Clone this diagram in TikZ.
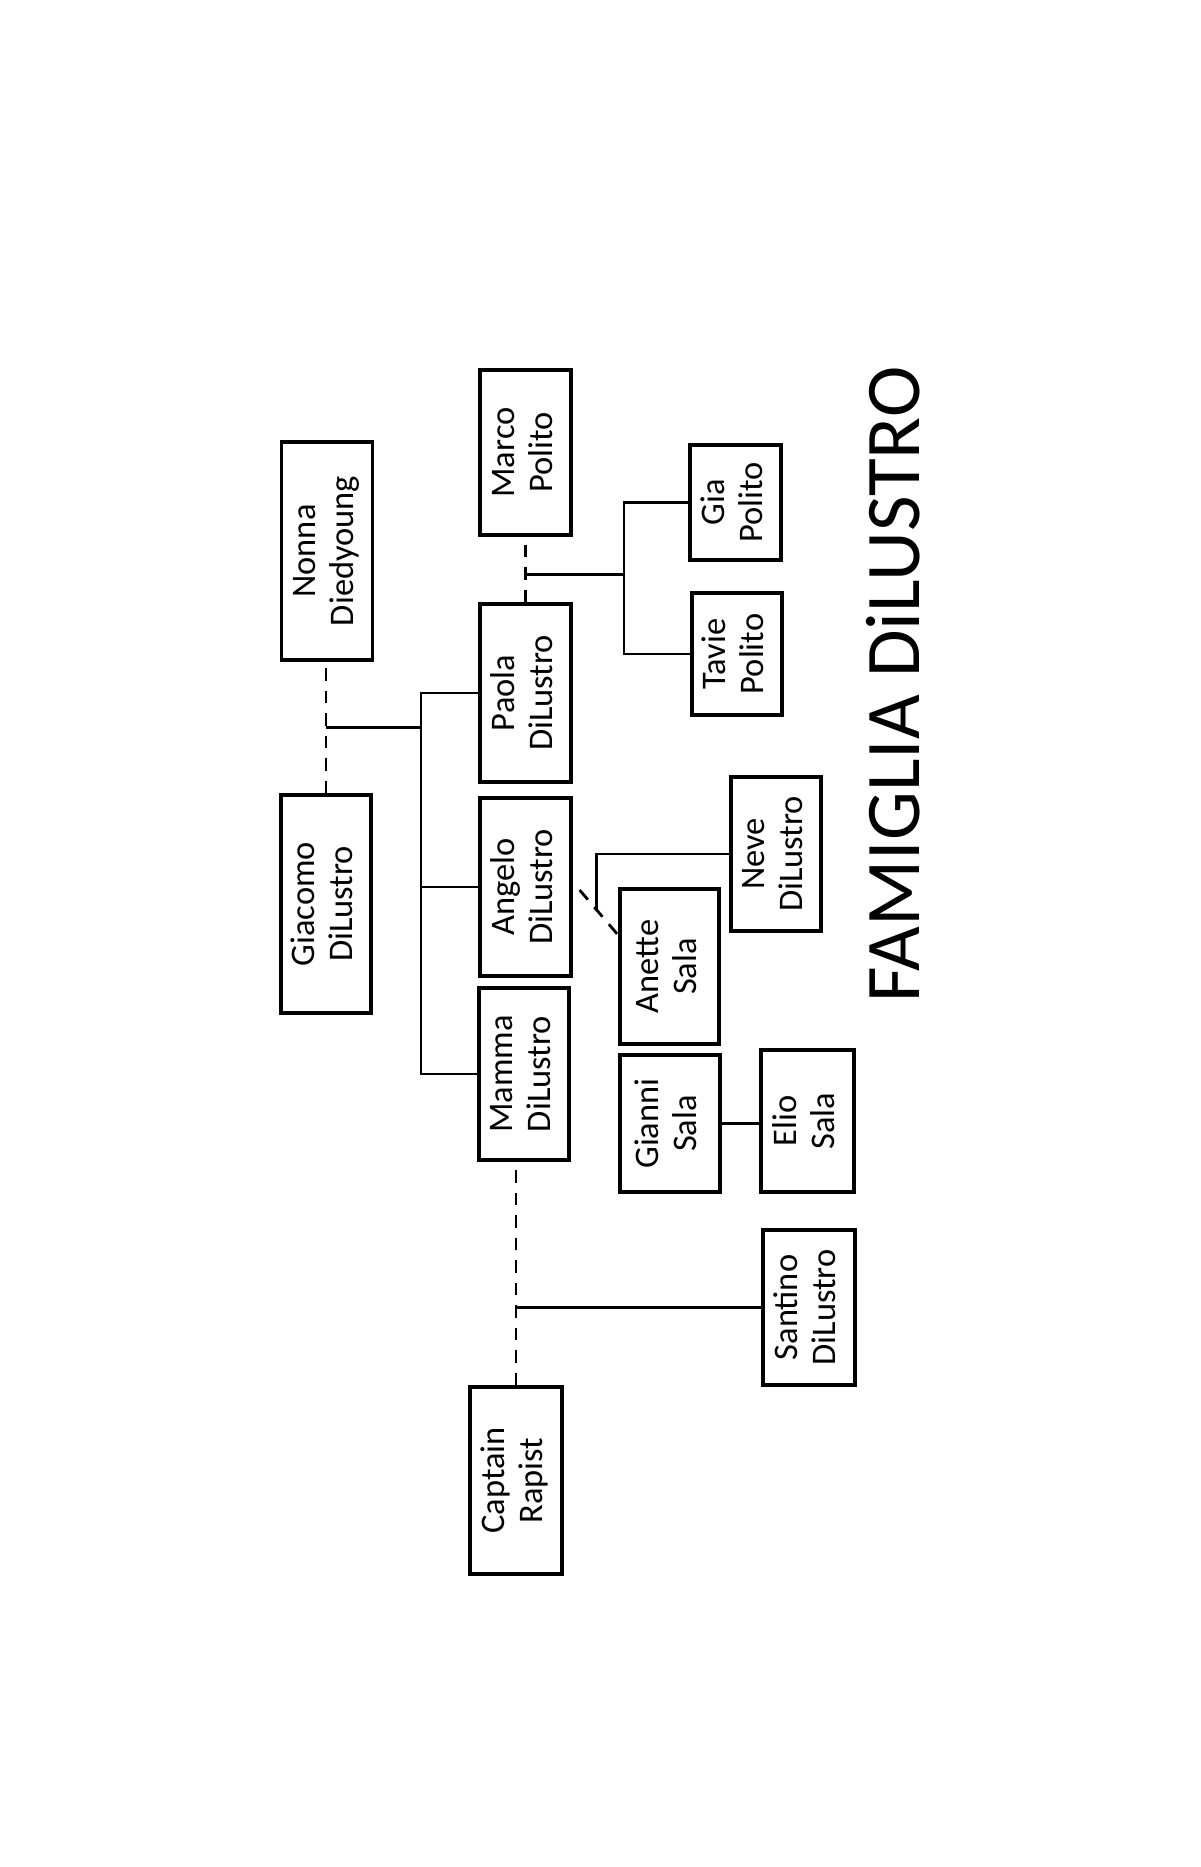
\documentclass[tikz,border=0pt]{standalone}
\usepackage{fontspec}
\setmainfont{Carlito}
\usepackage{graphicx}
\usetikzlibrary{calc}

\tikzset{
  person/.style 2 args={draw, line width=.9pt, inner sep=0pt,
    minimum width=#1, minimum height=#2, font=\fontsize{9.8}{10.8}\selectfont},
  link/.style={line width=.8pt},
  wed/.style={line width=.8pt, dash pattern=on 3.6pt off 2.8pt}
}
\newcommand{\who}[2]{\rotatebox{90}{\begin{tabular}{@{}c@{}}#1\\#2\end{tabular}}}

\begin{document}
\begin{tikzpicture}[x=0.01cm,y=-0.01cm]
\useasboundingbox (0,0) rectangle (1200,1867);
% grandparents
\node[person={.91cm}{2.18cm}] (nonna) at (327,551) {\who{Nonna}{Diedyoung}};
\node[person={.90cm}{2.18cm}] (giacomo) at (326,904) {\who{Giacomo}{DiLustro}};
% children and partners
\node[person={.91cm}{1.65cm}] (marco) at (525.5,452.5) {\who{Marco}{Polito}};
\node[person={.91cm}{1.78cm}] (paola) at (525.5,693) {\who{Paola}{DiLustro}};
\node[person={.91cm}{1.78cm}] (angelo) at (525.5,887) {\who{Angelo}{DiLustro}};
\node[person={.90cm}{1.72cm}] (mamma) at (524,1074) {\who{Mamma}{DiLustro}};
\node[person={.92cm}{1.87cm}] (captain) at (516,1480.5) {\who{Captain}{Rapist}};
\node[person={.99cm}{1.55cm}] (anette) at (669.5,966.5) {\who{Anette}{Sala}};
\node[person={1.00cm}{1.37cm}] (gianni) at (670,1123.5) {\who{Gianni}{Sala}};
% grandchildren
\node[person={.91cm}{1.15cm}] (gia) at (735.5,502.5) {\who{Gia}{Polito}};
\node[person={.90cm}{1.22cm}] (tavie) at (737,654) {\who{Tavie}{Polito}};
\node[person={.90cm}{1.54cm}] (neve) at (776,854) {\who{Neve}{DiLustro}};
\node[person={.93cm}{1.42cm}] (elio) at (807.5,1121) {\who{Elio}{Sala}};
\node[person={.92cm}{1.55cm}] (santino) at (809,1307.5) {\who{Santino}{DiLustro}};
% title
\node[rotate=90, inner sep=0pt, font=\fontsize{22}{26}\selectfont] (title) at (893,684.5) {FAMIGLIA DiLUSTRO};

% Nonna + Giacomo
\draw[wed] (giacomo.north) -- (giacomo.north |- nonna.south);
\coordinate (gn) at ($(giacomo.north)!.5!(giacomo.north |- nonna.south)$);
\coordinate (trunk) at (421,0);
\draw[link] (gn) -- (gn -| trunk);
\draw[link] (paola.west) -- (paola.west -| trunk) -- (mamma.west -| trunk) -- (mamma.west);
\draw[link] (angelo.west) -- (angelo.west -| trunk);

% Paola + Marco
\draw[wed] (paola.north) -- (marco.south);
\coordinate (pm) at ($(marco.south)!.57!(paola.north)$);
\coordinate (pol) at (624,0);
\draw[link] (pm) -- (pm -| pol);
\draw[link] (gia.west) -| (tavie.west -| pol) -- (tavie.west);

% Angelo + Anette
\coordinate (am1) at ($(angelo.east)+(7,3)$);
\coordinate (am2) at ($(anette.north west)+(0,48)$);
\draw[wed] (am1) -- (am2);
\draw[link] (neve.west) -| ($(am1)!.43!(am2)$);

% Gianni
\draw[link] (gianni.east) -- (gianni.east -| elio.west);

% Mamma + Captain
\draw[wed] (captain.north) -- (captain.north |- mamma.south);
\draw[link] (santino.west) -- (santino.west -| captain.north);
\end{tikzpicture}
\end{document}
